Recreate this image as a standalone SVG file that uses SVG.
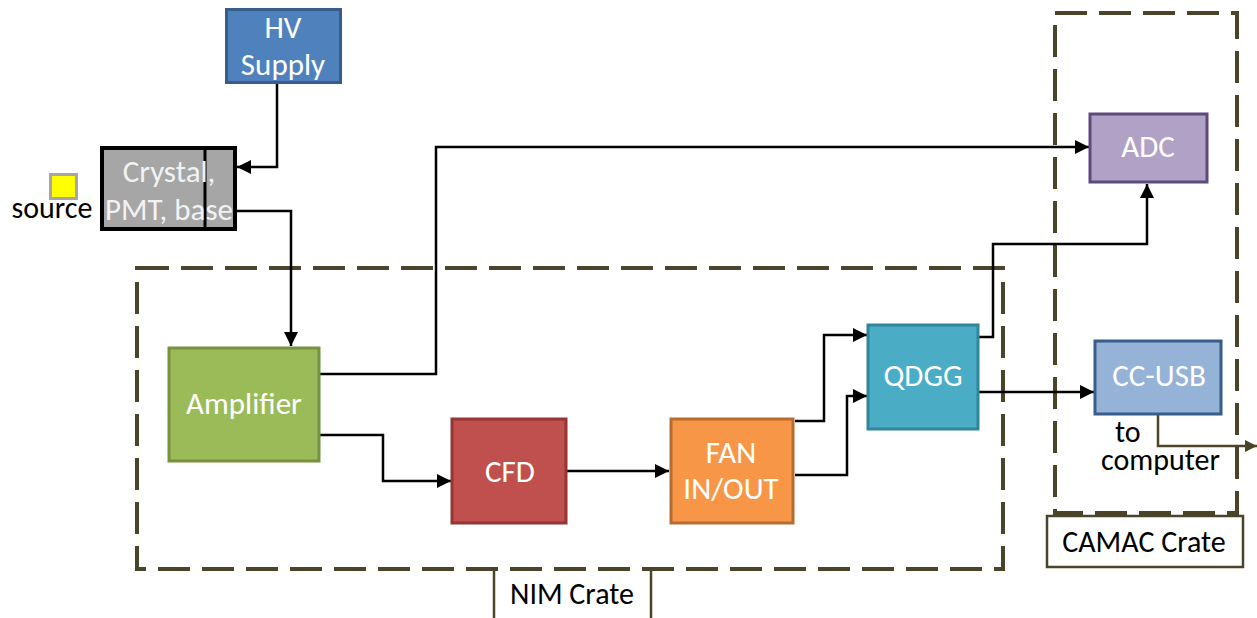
<svg xmlns="http://www.w3.org/2000/svg" width="1257" height="618" viewBox="0 0 1257 618">
<defs>
<style>
.lbl{font-family:Carlito,Lato,"Liberation Sans",sans-serif;font-size:31px;fill:#ffffff;text-anchor:middle}
.blk{font-family:Carlito,Lato,"Liberation Sans",sans-serif;font-size:30px;fill:#000000}
.box{stroke-width:3}
.conn{fill:none;stroke:#000;stroke-width:2.5}
.crate{fill:none;stroke:#4a452a;stroke-width:4;stroke-dasharray:32 12}
</style>
<marker id="arr" markerUnits="userSpaceOnUse" markerWidth="14" markerHeight="14" viewBox="0 0 12 12" refX="12" refY="6" orient="auto">
<path d="M0,0 L12,6 L0,12 z" fill="#000"/>
</marker>
<marker id="arrO" markerUnits="userSpaceOnUse" markerWidth="12" markerHeight="14" viewBox="0 0 12 12" refX="12" refY="6" orient="auto">
<path d="M0,0 L12,6 L0,12 z" fill="#4a452a"/>
</marker>
</defs>
<rect width="1257" height="618" fill="#ffffff"/>

<g id="nim-crate">
<rect class="crate" x="137" y="268" width="866" height="301"/>
<path d="M494,618 V569 M651,569 V618" fill="none" stroke="#4a452a" stroke-width="2.5"/>
<text class="blk" x="572" y="604" text-anchor="middle" font-size="29">NIM Crate</text>
</g>

<g id="camac-crate">
<rect class="crate" x="1055" y="13" width="182" height="500"/>
<rect x="1047" y="516" width="196" height="51" fill="#fff" stroke="#4a452a" stroke-width="2.5"/>
<text class="blk" x="1144" y="552" text-anchor="middle" font-size="29">CAMAC Crate</text>
</g>

<g id="connectors">
<path class="conn" d="M277,84 V167 H237" marker-end="url(#arr)"/>
<path class="conn" d="M237,211 H291 V346" marker-end="url(#arr)"/>
<path class="conn" d="M317,374 H436 V147 H1089" marker-end="url(#arr)"/>
<path class="conn" d="M317,435 H383 V481 H451" marker-end="url(#arr)"/>
<path class="conn" d="M567,471 H669" marker-end="url(#arr)"/>
<path class="conn" d="M795,421 H824 V335 H867" marker-end="url(#arr)"/>
<path class="conn" d="M795,475 H847 V396 H867" marker-end="url(#arr)"/>
<path class="conn" d="M979,337 H993 V244 H1147 V184" marker-end="url(#arr)"/>
<path class="conn" d="M979,392 H1094" marker-end="url(#arr)"/>
<path d="M1158,414 V446 H1257" fill="none" stroke="#4a452a" stroke-width="2.5" marker-end="url(#arrO)"/>
</g>

<g id="hv-supply">
<rect class="box" x="226.5" y="9.5" width="114" height="73" fill="#4f81bd" stroke="#385d8a"/>
<text class="lbl" x="283" y="38">HV</text>
<text class="lbl" x="283" y="75">Supply</text>
</g>

<g id="source">
<rect x="50.5" y="174.5" width="26" height="24" fill="#ffff00" stroke="#a6a6a6" stroke-width="3"/>
<text class="blk" x="52" y="218" text-anchor="middle">source</text>
</g>

<g id="crystal">
<rect x="102" y="148" width="133" height="81" fill="#a6a6a6" stroke="#000" stroke-width="4"/>
<line x1="205" y1="148" x2="205" y2="229" stroke="#000" stroke-width="3"/>
<text class="lbl" x="169" y="182" style="fill:#f2f2f2">Crystal,</text>
<text class="lbl" x="169" y="220" style="fill:#f2f2f2">PMT, base</text>
</g>

<g id="amplifier">
<rect class="box" x="169" y="348" width="150" height="113" fill="#9bbb59" stroke="#76923c"/>
<text class="lbl" x="244" y="414">Amplifier</text>
</g>

<g id="cfd">
<rect class="box" x="452" y="419" width="114" height="104" fill="#c0504d" stroke="#943634"/>
<text class="lbl" x="510" y="482">CFD</text>
</g>

<g id="fan-in-out">
<rect class="box" x="671" y="419" width="122" height="104" fill="#f79646" stroke="#b66d31"/>
<text class="lbl" x="731" y="463">FAN</text>
<text class="lbl" x="731" y="499">IN/OUT</text>
</g>

<g id="qdgg">
<rect class="box" x="868" y="325" width="110" height="104" fill="#4bacc6" stroke="#31859c"/>
<text class="lbl" x="923" y="386">QDGG</text>
</g>

<g id="adc">
<rect class="box" x="1090" y="114" width="117" height="68" fill="#b2a1c7" stroke="#5f497a"/>
<text class="lbl" x="1148" y="157">ADC</text>
</g>

<g id="cc-usb">
<rect class="box" x="1095" y="341" width="126" height="73" fill="#95b3d7" stroke="#385d8a"/>
<text class="lbl" x="1159" y="386">CC-USB</text>
<text class="blk" x="1115" y="442">to</text>
<text class="blk" x="1101" y="470">computer</text>
</g>
</svg>
